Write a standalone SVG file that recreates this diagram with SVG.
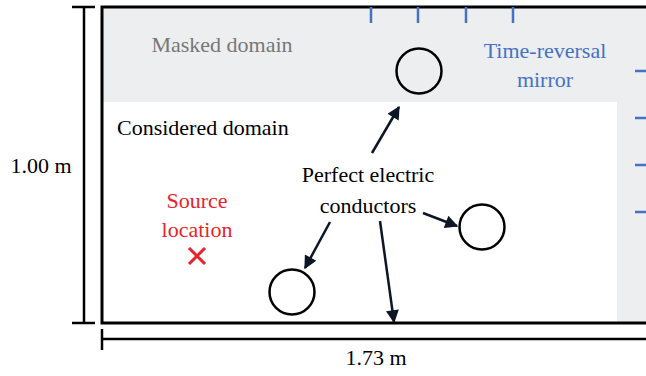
<svg xmlns="http://www.w3.org/2000/svg" width="646" height="376" viewBox="0 0 646 376">
<style>
text{font-family:"Liberation Serif","DejaVu Serif",serif;font-size:22px}
.frame{fill:none;stroke:#000;stroke-width:3}
.dim{fill:none;stroke:#000;stroke-width:2.5}
.tick{stroke:#4472c4;stroke-width:2.5}
.pec{fill:none;stroke:#000;stroke-width:2.5}
.arr{stroke:#0d1626;stroke-width:2.5;fill:none;marker-end:url(#ah)}
</style>
<defs>
<marker id="ah" viewBox="0 0 10 10" refX="9" refY="5" markerWidth="6.5" markerHeight="5.2" markerUnits="strokeWidth" orient="auto">
<path d="M0,0 L10,5 L0,10 Z" fill="#0d1626"/>
</marker>
</defs>
<g id="masked-domain">
<rect x="102" y="7" width="544" height="316" fill="#eceef0"/>
<rect x="102" y="102" width="515" height="221" fill="#fff"/>
<text x="222" y="52" text-anchor="middle" fill="#777">Masked domain</text>
</g>
<g id="considered-domain">
<text x="117" y="135" fill="#000">Considered domain</text>
</g>
<g id="frame">
<path class="frame" d="M646,7 H102 V323 H646"/>
</g>
<g id="dim-vertical">
<path class="dim" d="M84,7 V323 M72,7 H95 M72,323 H95"/>
<text x="41" y="173" text-anchor="middle">1.00 m</text>
</g>
<g id="dim-horizontal">
<path class="dim" d="M102,339 H646 M102,329 V350"/>
<text x="376" y="365" text-anchor="middle">1.73 m</text>
</g>
<g id="mirror">
<path class="tick" d="M371,7 V23 M418,7 V23 M466,7 V23 M513,7 V23 M635,71 H646 M635,118 H646 M635,165 H646 M635,212 H646"/>
<text x="545" y="58" text-anchor="middle" fill="#4472c4">Time-reversal</text>
<text x="545" y="87" text-anchor="middle" fill="#4472c4">mirror</text>
</g>
<g id="source">
<text x="197" y="208" text-anchor="middle" fill="#e8232b">Source</text>
<text x="197" y="237" text-anchor="middle" fill="#e8232b">location</text>
<path d="M189,248 L205,264 M205,248 L189,264" stroke="#e8232b" stroke-width="3"/>
</g>
<g id="pec-top"><circle class="pec" cx="419" cy="71" r="22.5"/></g>
<g id="pec-right"><circle class="pec" cx="482" cy="227" r="22.5"/></g>
<g id="pec-bottom"><circle class="pec" cx="292" cy="292" r="22.5"/></g>
<g id="pec-label">
<text x="368" y="182" text-anchor="middle">Perfect electric</text>
<text x="368" y="213" text-anchor="middle">conductors</text>
</g>
<g id="connectors">
<path class="arr" d="M372,153 L399,107"/>
<path class="arr" d="M423,213 L457,226"/>
<path class="arr" d="M330,222 L305,268"/>
<path class="arr" d="M380,221 L394,322"/>
</g>
</svg>
